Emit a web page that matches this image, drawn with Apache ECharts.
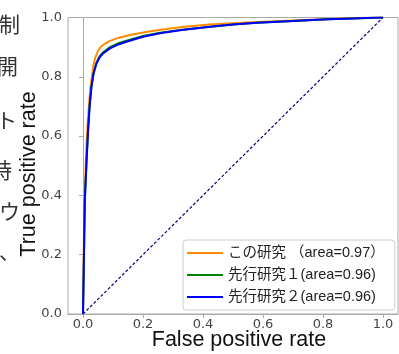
<!DOCTYPE html>
<html>
<head>
<meta charset="utf-8">
<script src="https://cdn.jsdelivr.net/npm/echarts@6/dist/echarts.min.js"></script>
<style>html,body{margin:0;padding:0;background:#fff}#c{width:399px;height:354px}</style>
</head>
<body>
<div id="c"></div>
<script>
const seriesNames = ['この研究 （area=0.97）', '先行研究１(area=0.96)', '先行研究２(area=0.96)'];
const seriesColors = ['#ff8c00', '#008000', '#0000ff'];
const tickValues = [0, 0.2, 0.4, 0.6, 0.8, 1.0];
const sideText = ['制', '開', 'ト', '時', 'ウ', '、'];

const orangeCurve = [[0,0],[0.003,0.25],[0.006,0.40],[0.009,0.50],[0.012,0.58],[0.016,0.65],[0.02,0.71],[0.025,0.765],[0.03,0.805],[0.035,0.84],[0.04,0.862],[0.05,0.887],[0.06,0.902],[0.075,0.913],[0.09,0.921],[0.12,0.932],[0.16,0.942],[0.22,0.953],[0.26,0.959],[0.33,0.968],[0.42,0.976],[0.5,0.981],[0.58,0.985],[0.7,0.990],[0.8,0.994],[0.9,0.998],[1,1]];
const greenCurve = [[0,0],[0.004,0.25],[0.006,0.38],[0.009,0.45],[0.012,0.52],[0.017,0.62],[0.022,0.70],[0.028,0.765],[0.035,0.812],[0.045,0.848],[0.055,0.869],[0.067,0.883],[0.09,0.900],[0.12,0.914],[0.145,0.922],[0.2,0.938],[0.257,0.949],[0.33,0.959],[0.424,0.969],[0.5,0.976],[0.58,0.982],[0.7,0.988],[0.815,0.994],[0.9,0.997],[0.99,1],[1,1]];
const blueCurve = [[0,0],[0.004,0.25],[0.006,0.38],[0.009,0.45],[0.012,0.52],[0.017,0.62],[0.022,0.70],[0.028,0.765],[0.035,0.81],[0.045,0.845],[0.055,0.865],[0.067,0.879],[0.09,0.896],[0.12,0.91],[0.145,0.918],[0.2,0.935],[0.257,0.947],[0.33,0.958],[0.424,0.969],[0.5,0.976],[0.58,0.982],[0.7,0.988],[0.815,0.994],[0.9,0.997],[0.99,1],[1,1]];
const chanceLine = [[0,0],[1,1]];

const chart = echarts.init(document.getElementById('c'), null, {renderer: 'canvas'});
const axisGray = '#aaaaaa';
const tickFont = {fontFamily: 'DejaVu Sans', fontSize: 13, color: '#444'};
const titleFont = '21.5px "Liberation Sans", Arial, sans-serif';
const curves = [orangeCurve, greenCurve, blueCurve];

const option = {
  animation: false,
  backgroundColor: '#fff',
  grid: {left: 68, right: 1, top: 17.5, bottom: 40, show: true, borderColor: axisGray, borderWidth: 1},
  xAxis: {
    type: 'value', min: -0.05, max: 1.05,
    splitLine: {show: false},
    axisLine: {show: true, lineStyle: {color: axisGray}},
    axisTick: {show: true, inside: false, length: 4, lineStyle: {color: axisGray}, customValues: tickValues},
    axisLabel: Object.assign({margin: 4, customValues: tickValues, formatter: v => v.toFixed(1)}, tickFont)
  },
  yAxis: {
    type: 'value', min: 0, max: 1, interval: 0.2,
    splitLine: {show: false},
    axisLine: {show: true, lineStyle: {color: axisGray}},
    axisTick: {show: true, inside: false, length: 4, lineStyle: {color: axisGray}},
    axisLabel: Object.assign({margin: 6, formatter: v => v.toFixed(1)}, tickFont)
  },
  legend: {
    data: seriesNames,
    orient: 'vertical',
    left: 183, top: 240,
    padding: [5, 10, 5, 4],
    itemGap: 6,
    itemWidth: 36, itemHeight: 2,
    icon: 'rect',
    backgroundColor: 'rgba(255,255,255,0.85)',
    borderColor: '#cccccc', borderWidth: 1, borderRadius: 3,
    textStyle: {fontFamily: 'Liberation Sans, Noto Sans CJK JP', fontSize: 14.5, color: '#222', lineHeight: 16, padding: [0,0,0,0]}
  },
  series: seriesNames.map((n, i) => ({
    name: n, type: 'line', data: curves[i], showSymbol: false, symbol: 'none',
    lineStyle: {color: seriesColors[i], width: 2}, itemStyle: {color: seriesColors[i]},
    clip: true, z: 2 + i
  })).concat([{
    name: 'chance', type: 'line', data: chanceLine, showSymbol: false, symbol: 'none',
    lineStyle: {color: '#000080', width: 1.2, type: [3, 2]}, z: 6
  }]),
  graphic: [
    {type: 'text', style: {text: 'False positive rate', font: titleFont, fill: '#111', x: 239, y: 340, align: 'center', verticalAlign: 'middle'}},
    {type: 'text', x: 29, y: 174, rotation: Math.PI / 2, style: {text: 'True positive rate', font: titleFont, fill: '#111', align: 'center', verticalAlign: 'middle'}}
  ].concat(sideText.map((t, i) => ({
    type: 'text',
    style: {text: t, font: '21px "Noto Sans CJK JP"', fill: '#333', x: [-1, -3, -4, -9, -1, -1][i], y: [24, 66, 120, 170, 211, 251][i], verticalAlign: 'middle'}
  })))
};
chart.setOption(option);
</script>
</body>
</html>
